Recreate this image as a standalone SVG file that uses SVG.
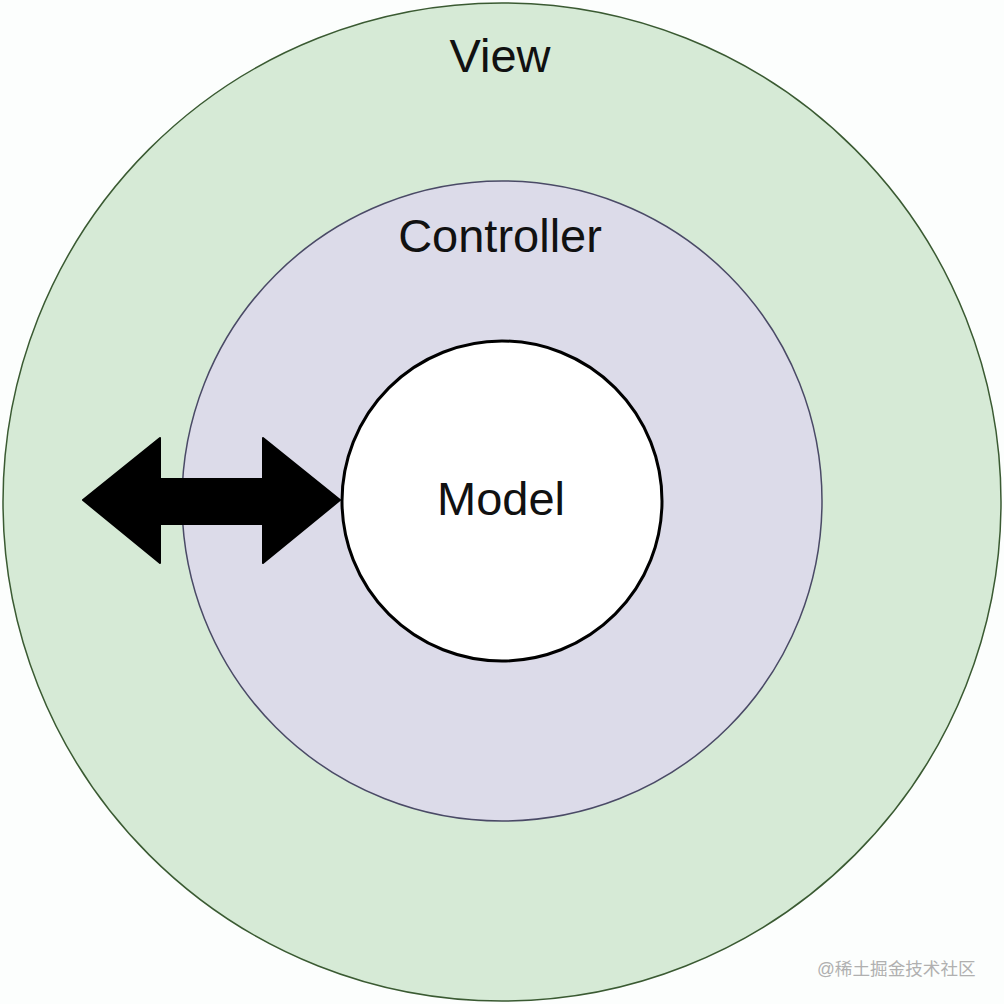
<svg xmlns="http://www.w3.org/2000/svg" width="1004" height="1004" viewBox="0 0 1004 1004">
<style>
text{font-family:"Liberation Sans",Arial,sans-serif;fill:#111;text-anchor:middle}
.lbl{font-size:47px}
.wm{font-family:"Liberation Sans","Noto Sans CJK SC",sans-serif;font-size:17.6px;fill:#b0b0b0;text-anchor:start}
</style>
<rect width="1004" height="1004" fill="#fcfefd"/>
<g id="view">
<circle cx="502" cy="502" r="499" fill="#d6ead6" stroke="#3a5a32" stroke-width="1.5"/>
<text class="lbl" x="500" y="72">View</text>
</g>
<g id="controller">
<circle cx="502" cy="501" r="320" fill="#dcdbe9" stroke="#4a4a66" stroke-width="1.5"/>
<text class="lbl" x="500" y="252">Controller</text>
</g>
<g id="model">
<circle cx="502" cy="501" r="160" fill="#ffffff" stroke="#000" stroke-width="3"/>
<text class="lbl" x="501" y="515">Model</text>
</g>
<g id="connectors">
<polygon points="83,500 160,438 160,479 263,479 263,438 340,500 263,563 263,524 160,524 160,563" fill="#000" stroke="#000" stroke-width="2" stroke-linejoin="round"/>
</g>
<text class="wm" x="817" y="975">@稀土掘金技术社区</text>
</svg>
